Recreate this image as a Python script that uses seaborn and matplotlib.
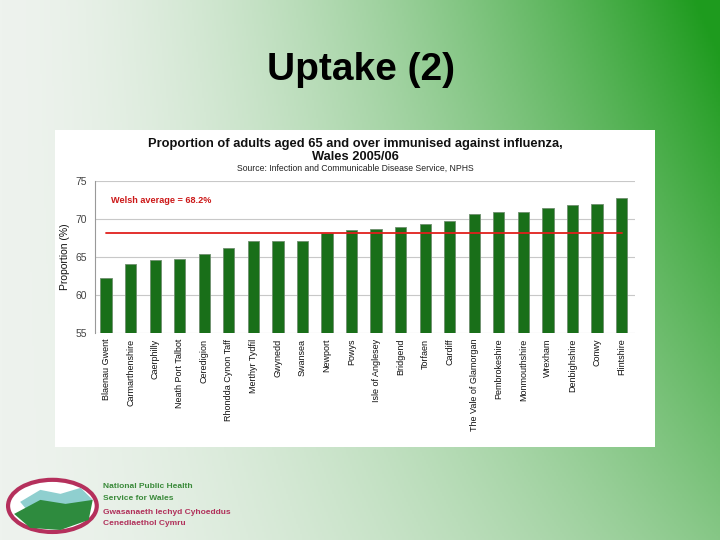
import matplotlib
matplotlib.use("Agg")
import matplotlib.pyplot as plt
from matplotlib.patches import Rectangle, Ellipse, Polygon
import seaborn as sns
import pandas as pd
import numpy as np

# data
areas = ["Blaenau Gwent", "Carmarthenshire", "Caerphilly", "Neath Port Talbot",
         "Ceredigion", "Rhondda Cynon Taff", "Merthyr Tydfil", "Gwynedd", "Swansea",
         "Newport", "Powys", "Isle of Anglesey", "Bridgend", "Torfaen", "Cardiff",
         "The Vale of Glamorgan", "Pembrokeshire", "Monmouthshire", "Wrexham",
         "Denbighshire", "Conwy", "Flintshire"]
uptake = [62.2, 64.1, 64.6, 64.7, 65.4, 66.2, 67.1, 67.1, 67.1, 68.2, 68.5,
          68.7, 68.9, 69.3, 69.7, 70.7, 70.9, 70.9, 71.4, 71.8, 72.0, 72.8]
welsh_avg = 68.2
y_ticks = [55, 60, 65, 70, 75]

df = pd.DataFrame({"area": areas, "uptake": uptake})

sns.set_theme(style="white")
plt.rcParams["font.family"] = ["Liberation Sans", "DejaVu Sans"]

fig = plt.figure(figsize=(7.2, 5.4), dpi=100)

# slide background: white to green gradient
bg = fig.add_axes([0, 0, 1, 1], zorder=-10)
xx, yy = np.meshgrid(np.linspace(0, 1, 360), np.linspace(0, 1, 270))
g = np.clip(xx ** 1.6 * (1.05 - 0.55 * yy), 0, 1)
white = np.array([238, 243, 238]) / 255
green = np.array([30, 155, 30]) / 255
img = white[None, None, :] * (1 - g[..., None]) + green[None, None, :] * g[..., None]
bg.imshow(img, aspect="auto", extent=[0, 1, 0, 1], origin="upper")
bg.set_axis_off()

fig.text(0.502, 0.871, "Uptake (2)", ha="center", va="center",
         fontsize=28, fontweight="bold", color="black")

# white chart panel
fig.patches.append(Rectangle((0.076, 0.172), 0.834, 0.587, transform=fig.transFigure,
                             facecolor="white", edgecolor="none", zorder=-5))

fig.text(0.494, 0.734, "Proportion of adults aged 65 and over immunised against influenza,",
         ha="center", va="center", fontsize=9.3, fontweight="bold", color="#111111")
fig.text(0.494, 0.709, "Wales 2005/06", ha="center", va="center",
         fontsize=9.3, fontweight="bold", color="#111111")
fig.text(0.494, 0.689, "Source: Infection and Communicable Disease Service, NPHS",
         ha="center", va="center", fontsize=6.2, color="#222222")

ax = fig.add_axes([0.132, 0.383, 0.750, 0.282])
sns.barplot(data=df, x="area", y="uptake", color="#0b7d0b", width=0.46,
            edgecolor="#6f8f6f", linewidth=0.6, ax=ax, zorder=3)
ax.plot([0, len(areas) - 1], [welsh_avg, welsh_avg], color="#e0201c", lw=1.3, zorder=4)
ax.text(0.2, 72.4, f"Welsh average = {welsh_avg}%", color="#cc1818",
        fontsize=6.6, fontweight="bold", va="center")

ax.set_ylim(55, 75)
ax.set_xlim(-0.45, len(areas) - 0.45)
ax.set_yticks(y_ticks)
ax.set_yticklabels([str(t) for t in y_ticks], fontsize=7.5, color="#444444")
ax.yaxis.grid(True, color="#c8c8c8", lw=0.8, zorder=0)
ax.set_xlabel("")
ax.set_ylabel("Proportion (%)", fontsize=7.5, color="#111111", labelpad=4)
ax.set_xticks(range(len(areas)))
ax.set_xticklabels(areas, rotation=90, fontsize=6.5, color="#111111")
ax.tick_params(axis="x", length=0, pad=4)
ax.tick_params(axis="y", length=0, pad=6)
for s in ["top", "right", "bottom"]:
    ax.spines[s].set_visible(False)
ax.spines["left"].set_color("#999999")
ax.spines["left"].set_linewidth(0.8)
ax.set_facecolor("none")

# logo (simplified)
lg = fig.add_axes([0.0, 0.0, 0.14, 0.13])
lg.set_xlim(0, 100)
lg.set_ylim(0, 70)
lg.set_axis_off()
lg.add_patch(Ellipse((52, 34), 88, 52, facecolor="white", edgecolor="#b5305c", lw=3))
lg.add_patch(Polygon([[20, 38], [40, 50], [60, 46], [80, 52], [92, 40], [70, 30], [30, 26]],
                     closed=True, facecolor="#8fcfcf", edgecolor="none"))
lg.add_patch(Polygon([[14, 26], [40, 40], [65, 36], [92, 40], [88, 20], [60, 10], [30, 12]],
                     closed=True, facecolor="#2e8b3e", edgecolor="none"))
fig.text(0.143, 0.096, "National Public Health", fontsize=6, fontweight="bold", color="#3a8a3a")
fig.text(0.143, 0.075, "Service for Wales", fontsize=6, fontweight="bold", color="#3a8a3a")
fig.text(0.143, 0.048, "Gwasanaeth Iechyd Cyhoeddus", fontsize=6, fontweight="bold", color="#b0305a")
fig.text(0.143, 0.027, "Cenedlaethol Cymru", fontsize=6, fontweight="bold", color="#b0305a")

fig.savefig("out.png", dpi=100)
